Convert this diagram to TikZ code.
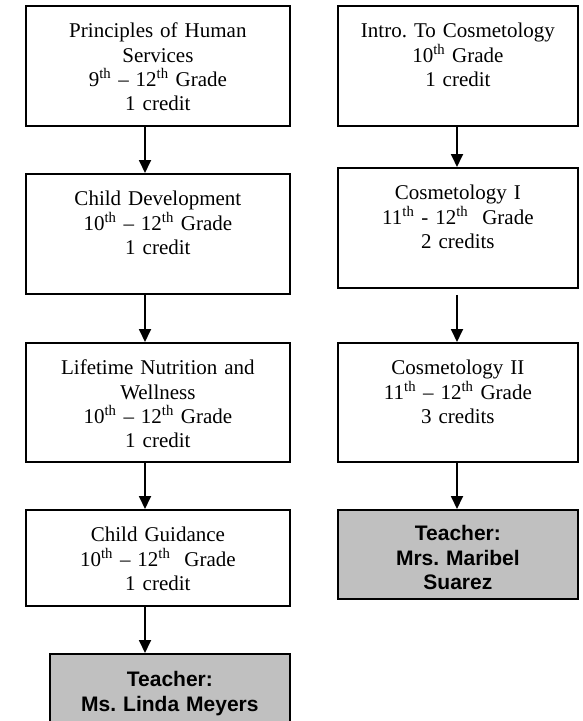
\documentclass[tikz,border=0pt]{standalone}
\usepackage{fontspec}
\setmainfont{Liberation Serif}
\newfontfamily\arialfont{Liberation Sans}
\usetikzlibrary{arrows.meta}
\definecolor{teachgray}{RGB}{192,192,192}
\frenchspacing
\begin{document}
\begin{tikzpicture}[x=1pt,y=-1pt,
  cbox/.style={draw, line width=1.8pt, inner sep=0pt, align=center,
    font=\fontsize{21}{24.2}\selectfont\frenchspacing, text height=32pt, anchor=north west},
  tbox/.style={cbox, fill=teachgray, font=\arialfont\bfseries\fontsize{21}{24.2}\selectfont\frenchspacing},
  arr/.style={line width=1.8pt, -{Triangle[width=12pt,length=13pt]}}]
\useasboundingbox (0,0) rectangle (583,721);
% left column
\node[cbox, text width=264pt, text depth=88pt] (b1) at (25,5)
  {Principles of Human\\Services\\9\textsuperscript{th} – 12\textsuperscript{th} Grade\\1 credit};
\node[cbox, text width=264pt, text depth=88pt] (b2) at (25,173)
  {Child Development\\10\textsuperscript{th} – 12\textsuperscript{th} Grade\\1 credit};
\node[cbox, text width=264pt, text depth=87pt] (b3) at (25,342)
  {Lifetime Nutrition and\\Wellness\\10\textsuperscript{th} – 12\textsuperscript{th} Grade\\1 credit};
\node[cbox, text width=264pt, text depth=64pt] (b4) at (25,509)
  {Child Guidance\\10\textsuperscript{th} – 12\textsuperscript{th}\ \ Grade\\1 credit};
\node[tbox, text width=240pt, text height=33pt, text depth=35pt] (t1) at (49,653)
  {Teacher:\\Ms. Linda Meyers};
% right column
\node[cbox, text width=240pt, text depth=88pt] (r1) at (337,5)
  {Intro. To Cosmetology\\10\textsuperscript{th} Grade\\1 credit};
\node[cbox, text width=240pt, text depth=88pt] (r2) at (337,167)
  {Cosmetology I\\11\textsuperscript{th} - 12\textsuperscript{th}\ \ Grade\\2 credits};
\node[cbox, text width=240pt, text depth=87pt] (r3) at (337,342)
  {Cosmetology II\\11\textsuperscript{th} – 12\textsuperscript{th} Grade\\3 credits};
\node[tbox, text width=240pt, text height=31pt, text depth=58pt] (t2) at (337,509)
  {Teacher:\\Mrs. Maribel\\Suarez};
% arrow columns
\coordinate (lax) at (145,0);
\coordinate (rax) at (457,0);
\draw[arr] (b1.south -| lax) -- (b2.north -| lax);
\draw[arr] (b2.south -| lax) -- (b3.north -| lax);
\draw[arr] (b3.south -| lax) -- (b4.north -| lax);
\draw[arr] (b4.south -| lax) -- (t1.north -| lax);
\draw[arr] (r1.south -| rax) -- (r2.north -| rax);
\draw[arr] ([yshift=-6pt]r2.south -| rax) -- (r3.north -| rax);
\draw[arr] (r3.south -| rax) -- (t2.north -| rax);
\end{tikzpicture}
\end{document}
